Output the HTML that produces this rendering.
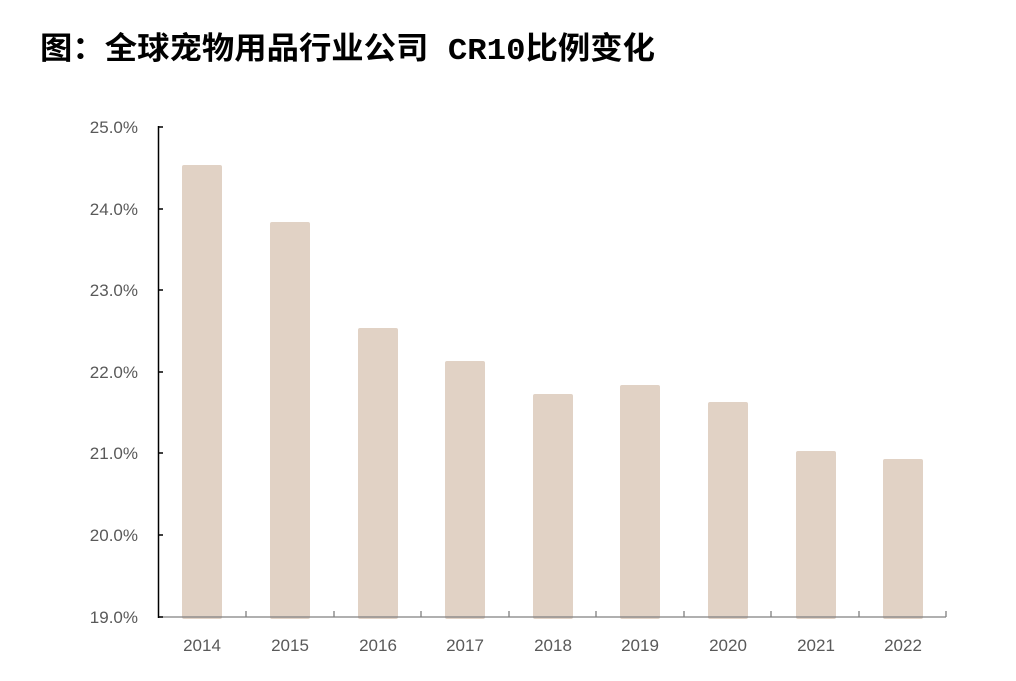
<!DOCTYPE html>
<html><head><meta charset="utf-8"><style>
body{margin:0;background:#fff;width:1016px;height:676px;overflow:hidden}
</style></head><body>
<svg width="1016" height="676" xmlns="http://www.w3.org/2000/svg" font-family="Liberation Sans, sans-serif">
<text x="40" y="59" font-size="31" font-weight="bold" font-family="Liberation Mono, Noto Sans CJK SC, sans-serif" fill="#000" textLength="615" lengthAdjust="spacingAndGlyphs">图：全球宠物用品行业公司 CR10比例变化</text>
<g fill="#e1d2c5">
<rect x="182" y="165" width="40" height="454" rx="2"/>
<rect x="270" y="222" width="40" height="397" rx="2"/>
<rect x="358" y="328" width="40" height="291" rx="2"/>
<rect x="445" y="361" width="40" height="258" rx="2"/>
<rect x="533" y="394" width="40" height="225" rx="2"/>
<rect x="620" y="385" width="40" height="234" rx="2"/>
<rect x="708" y="402" width="40" height="217" rx="2"/>
<rect x="796" y="451" width="40" height="168" rx="2"/>
<rect x="883" y="459" width="40" height="160" rx="2"/>
</g>
<g stroke="#808080" stroke-width="1.3">
<line x1="158" y1="617" x2="946" y2="617"/>
<line x1="246" y1="611" x2="246" y2="617"/><line x1="334" y1="611" x2="334" y2="617"/>
<line x1="421" y1="611" x2="421" y2="617"/><line x1="509" y1="611" x2="509" y2="617"/>
<line x1="596" y1="611" x2="596" y2="617"/><line x1="684" y1="611" x2="684" y2="617"/>
<line x1="771" y1="611" x2="771" y2="617"/><line x1="859" y1="611" x2="859" y2="617"/>
<line x1="946" y1="611" x2="946" y2="617"/>
</g>
<g stroke="#000" stroke-width="1.5">
<line x1="158.5" y1="126" x2="158.5" y2="618"/>
<line x1="158" y1="127" x2="163" y2="127"/><line x1="158" y1="209" x2="163" y2="209"/>
<line x1="158" y1="290" x2="163" y2="290"/><line x1="158" y1="372" x2="163" y2="372"/>
<line x1="158" y1="453" x2="163" y2="453"/><line x1="158" y1="535" x2="163" y2="535"/>
<line x1="158" y1="617" x2="163" y2="617"/>
</g>
<g font-size="17" fill="#595959" text-anchor="end">
<text x="138" y="133">25.0%</text><text x="138" y="215">24.0%</text>
<text x="138" y="296">23.0%</text><text x="138" y="378">22.0%</text>
<text x="138" y="459">21.0%</text><text x="138" y="541">20.0%</text>
<text x="138" y="623">19.0%</text>
</g>
<g font-size="17" fill="#595959" text-anchor="middle">
<text x="202" y="651">2014</text><text x="290" y="651">2015</text><text x="378" y="651">2016</text>
<text x="465" y="651">2017</text><text x="553" y="651">2018</text><text x="640" y="651">2019</text>
<text x="728" y="651">2020</text><text x="816" y="651">2021</text><text x="903" y="651">2022</text>
</g>
</svg>
</body></html>
